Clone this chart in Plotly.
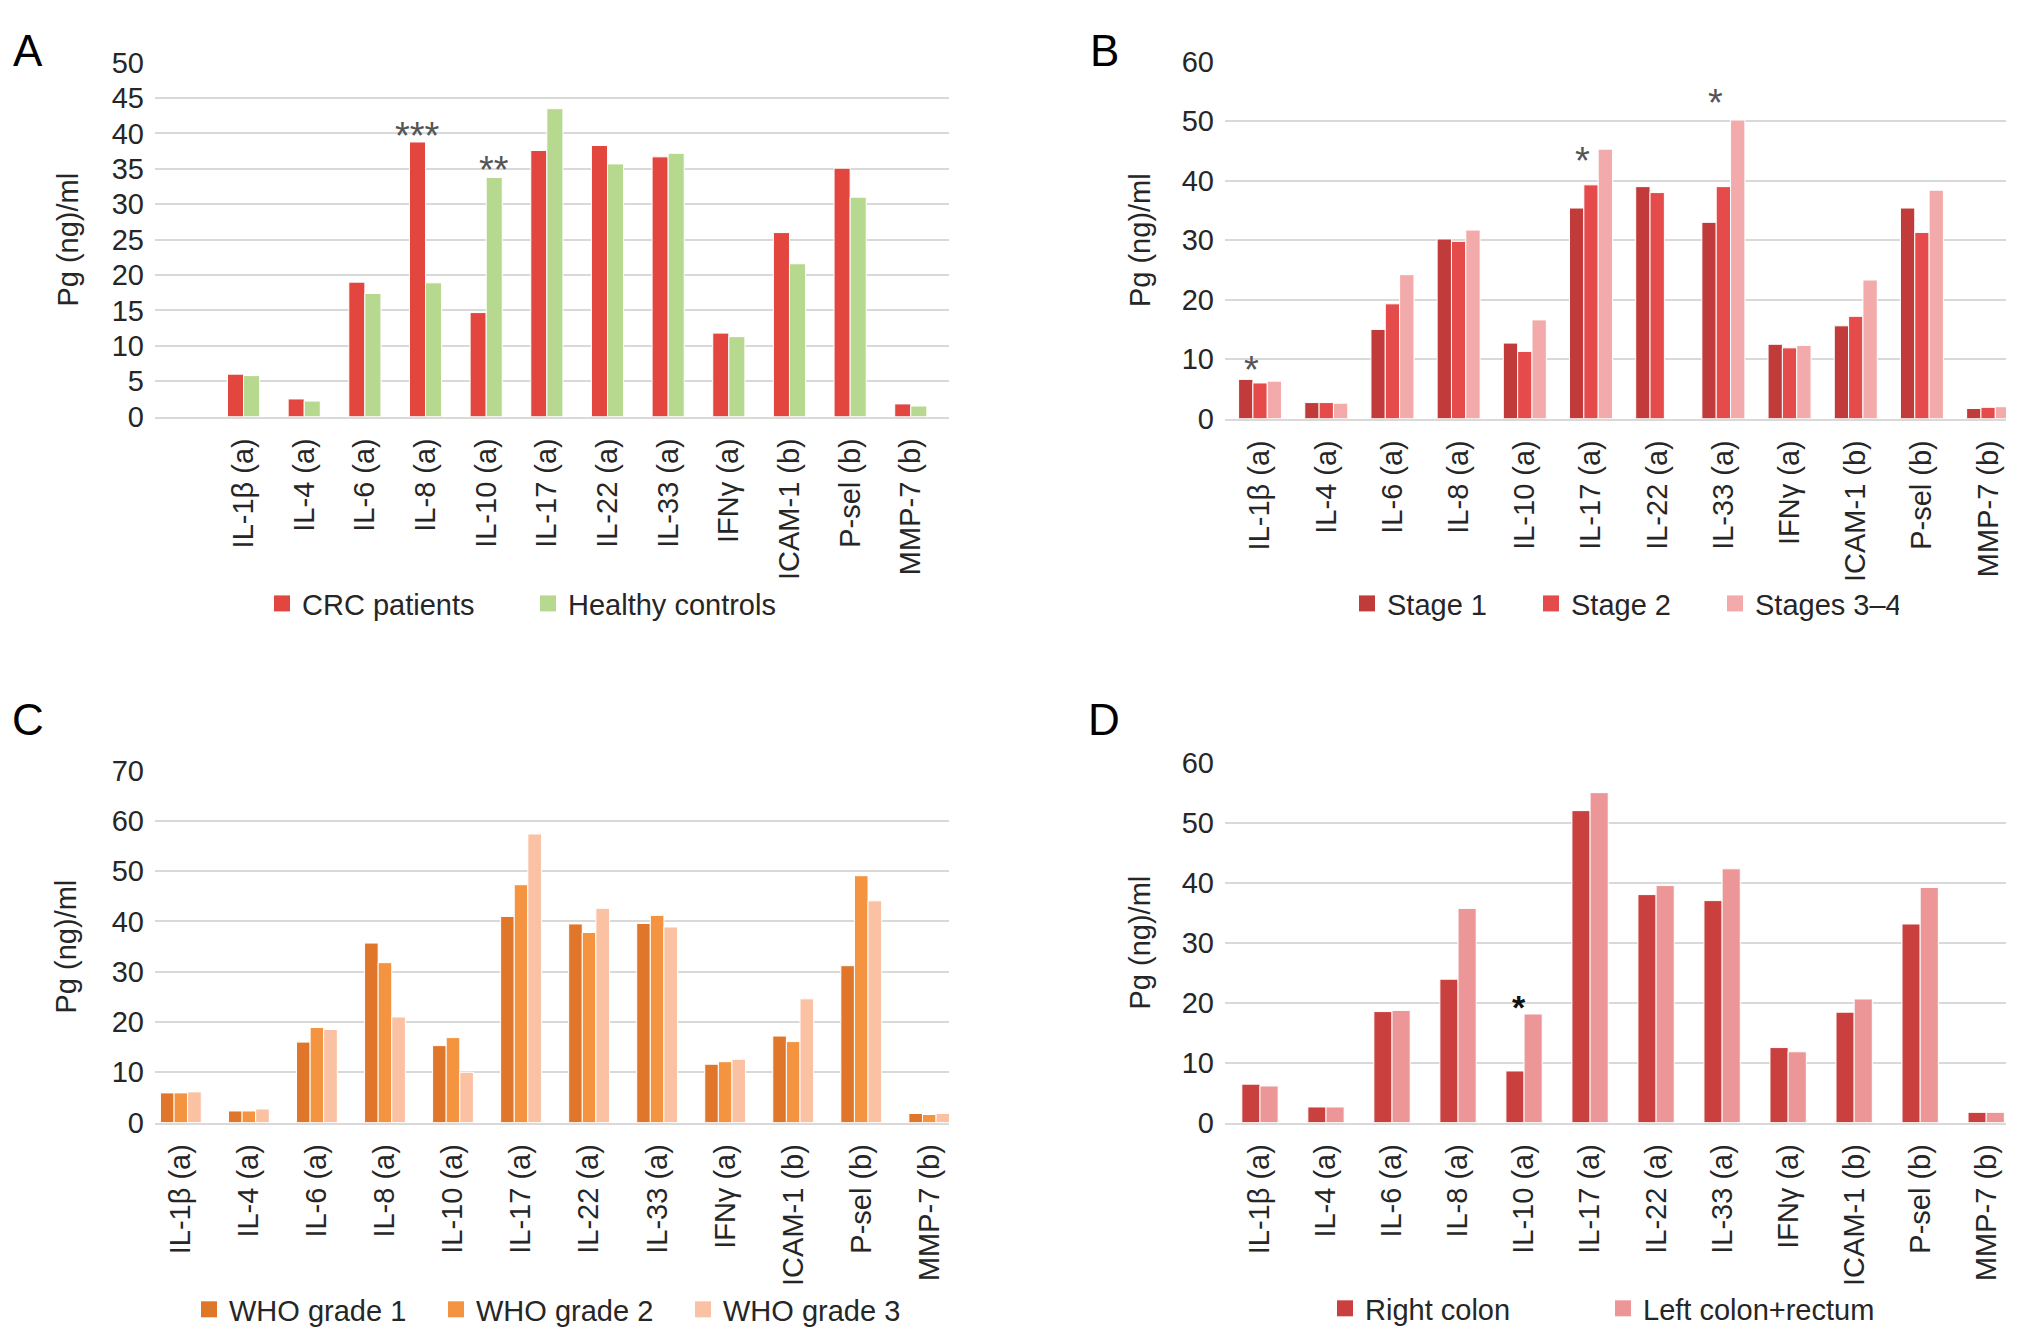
import plotly.graph_objects as go

categories = ["IL-1β (a)", "IL-4 (a)", "IL-6 (a)", "IL-8 (a)", "IL-10 (a)", "IL-17 (a)",
              "IL-22 (a)", "IL-33 (a)", "IFNγ (a)", "ICAM-1 (b)", "P-sel (b)", "MMP-7 (b)"]

# Panel A
crc_patients = [6.0, 2.5, 19.0, 38.8, 14.7, 37.6, 38.3, 36.7, 11.8, 26.0, 35.1, 1.8]
healthy_controls = [5.8, 2.2, 17.4, 18.9, 33.8, 43.5, 35.7, 37.2, 11.3, 21.6, 31.0, 1.5]

# Panel B
stage_1 = [6.6, 2.7, 15.0, 30.2, 12.7, 35.4, 39.0, 33.0, 12.5, 15.6, 35.4, 1.7]
stage_2 = [6.0, 2.7, 19.3, 29.8, 11.3, 39.3, 38.0, 39.0, 11.9, 17.2, 31.3, 1.9]
stages_3_4 = [6.3, 2.6, 24.2, 31.7, 16.6, 45.3, None, 50.2, 12.3, 23.3, 38.4, 2.0]

# Panel C
who_grade_1 = [5.9, 2.3, 16.0, 35.7, 15.3, 41.0, 39.5, 39.6, 11.6, 17.2, 31.2, 1.8]
who_grade_2 = [5.9, 2.3, 18.9, 31.8, 16.9, 47.3, 37.8, 41.2, 12.1, 16.1, 49.1, 1.6]
who_grade_3 = [6.1, 2.7, 18.5, 21.0, 10.0, 57.4, 42.6, 38.9, 12.6, 24.6, 44.1, 1.8]

# Panel D
right_colon = [6.4, 2.6, 18.5, 23.9, 8.6, 52.0, 38.0, 37.0, 12.5, 18.4, 33.1, 1.7]
left_colon_rectum = [6.1, 2.6, 18.7, 35.7, 18.1, 55.0, 39.5, 42.3, 11.8, 20.6, 39.2, 1.7]

# significance marks: (panel, category index, text, y value)
stars = [("A", 3, "***", 40.0), ("A", 4, "**", 35.2),
         ("B", 0, "*", 8.6), ("B", 5, "*", 43.8), ("B", 7, "*", 53.6),
         ("D", 4, "*", 19.8)]

PAGE_OFF = 8                      # default page margin around the figure
W, H = 2032 - 2 * PAGE_OFF, 1343 - 2 * PAGE_OFF
FONT = "Liberation Sans"
TXT = "#262626"
GRID = "#D9D9D9"
FS = 29

def hx(v):
    return v - PAGE_OFF

def vy(v):
    # empirical correction of the vertical placement in the photographed page
    return (v - 14.26) / 0.977 - PAGE_OFF

panels = [
    dict(key="A", ax="", series=[("CRC patients", crc_patients, "#E2463F"),
                                 ("Healthy controls", healthy_controls, "#B7D88F")],
         xpx=(155, 949), ypx=(61, 417), yr=[0, 50], dtick=5, xr=[-1.46, 11.63], group=0.53,
         legend="legend", lx=262, ly=605, ew=221, standoff=24, label=(28, None),
         star_off={3: -0.1325, 4: 0.1325}),
    dict(key="B", ax="2", series=[("Stage 1", stage_1, "#C23B3B"),
                                  ("Stage 2", stage_2, "#E54B4B"),
                                  ("Stages 3–4", stages_3_4, "#F2AAAA")],
         xpx=(1225, 2006), ypx=(60, 419), yr=[0, 60], dtick=10, xr=[-0.53, 11.27], group=0.65,
         legend="legend2", lx=1347, ly=605, ew=139, standoff=22, label=(1104, None),
         star_off={0: -0.13, 5: -0.13, 7: -0.12}),
    dict(key="C", ax="3", series=[("WHO grade 1", who_grade_1, "#E07629"),
                                  ("WHO grade 2", who_grade_2, "#F49440"),
                                  ("WHO grade 3", who_grade_3, "#FBC1A3")],
         xpx=(155, 949), ypx=(773, 1127), yr=[0, 70], dtick=10, xr=[-0.38, 11.29], group=0.6,
         legend="legend3", lx=189, ly=1315, ew=202, standoff=26, label=(28, 722),
         star_off={}),
    dict(key="D", ax="4", series=[("Right colon", right_colon, "#C9403F"),
                                  ("Left colon+rectum", left_colon_rectum, "#EC9697")],
         xpx=(1225, 2006), ypx=(765, 1127), yr=[0, 60], dtick=10, xr=[-0.53, 11.3], group=0.55,
         legend="legend4", lx=1325, ly=1314, ew=233, standoff=22, label=(1104, 722),
         star_off={4: -0.08}),
]

fig = go.Figure()
layout = dict(width=W, height=H, margin=dict(l=0, r=0, t=0, b=0),
              paper_bgcolor="white", plot_bgcolor="white", barmode="overlay",
              font=dict(family=FONT, size=FS, color=TXT), annotations=[])

xs = list(range(len(categories)))
for p in panels:
    n = len(p["series"])
    w = p["group"] / n
    xa, ya = "x" + p["ax"], "y" + p["ax"]
    for k, (name, vals, col) in enumerate(p["series"]):
        fig.add_trace(go.Bar(x=xs, y=vals, width=w, offset=-p["group"] / 2 + k * w,
                             marker=dict(color=col, line=dict(color="white", width=1)),
                             name=name, showlegend=False, xaxis=xa, yaxis=ya,
                             hovertemplate="%{y}<extra>" + name + "</extra>"))
        fig.add_trace(go.Scatter(x=[None], y=[None], mode="markers", name=name,
                                 marker=dict(symbol="square", size=17, color=col),
                                 xaxis=xa, yaxis=ya, legend=p["legend"], showlegend=True))
    x0, x1 = hx(p["xpx"][0]), hx(p["xpx"][1])
    y0, y1 = vy(p["ypx"][0]), vy(p["ypx"][1])
    layout["xaxis" + p["ax"]] = dict(
        domain=[x0 / W, x1 / W], anchor=ya, range=p["xr"], tickmode="array",
        tickvals=xs, ticktext=categories, tickangle=-90, ticks="", showgrid=False,
        showline=True, linecolor=GRID, linewidth=2, zeroline=False, fixedrange=True,
        tickfont=dict(size=FS, color=TXT, family=FONT), ticklabelstandoff=8)
    layout["yaxis" + p["ax"]] = dict(
        domain=[1 - y1 / H, 1 - y0 / H], anchor=xa, range=p["yr"], dtick=p["dtick"],
        showgrid=True, gridcolor=GRID, gridwidth=2, zeroline=False, showline=False,
        ticks="", tickfont=dict(size=FS, color=TXT, family=FONT), ticklabelstandoff=10,
        title=dict(text="Pg (ng)/ml", font=dict(size=FS, color=TXT, family=FONT),
                   standoff=p["standoff"]))
    layout[p["legend"]] = dict(orientation="h", x=hx(p["lx"]) / W, y=1 - vy(p["ly"]) / H,
                               xanchor="left", yanchor="middle", bgcolor="rgba(0,0,0,0)",
                               font=dict(size=FS, color=TXT, family=FONT),
                               entrywidth=p["ew"], entrywidthmode="pixels",
                               itemwidth=30, tracegroupgap=0)
    lx, ly = p["label"]
    if ly is None:
        lab_y, lab_anchor = 1.0, "top"
    else:
        lab_y, lab_anchor = 1 - vy(ly) / H, "middle"
    layout["annotations"].append(dict(text=p["key"], x=hx(lx) / W, y=lab_y,
                                      xref="paper", yref="paper", showarrow=False,
                                      xanchor="center", yanchor=lab_anchor,
                                      font=dict(size=44, color="black", family=FONT)))
    for (pk, ci, txt, yv) in stars:
        if pk != p["key"]:
            continue
        bold = pk == "D"
        layout["annotations"].append(dict(
            text=("<b>" + txt + "</b>") if bold else txt,
            x=ci + p["star_off"].get(ci, 0), y=yv, xref=xa, yref=ya, showarrow=False,
            xanchor="center", yanchor="middle", yshift=-3,
            font=dict(size=34 if bold else 38, color="#111111" if bold else "#555555",
                      family=FONT)))

fig.update_layout(**layout)
fig.write_html("out.html")
